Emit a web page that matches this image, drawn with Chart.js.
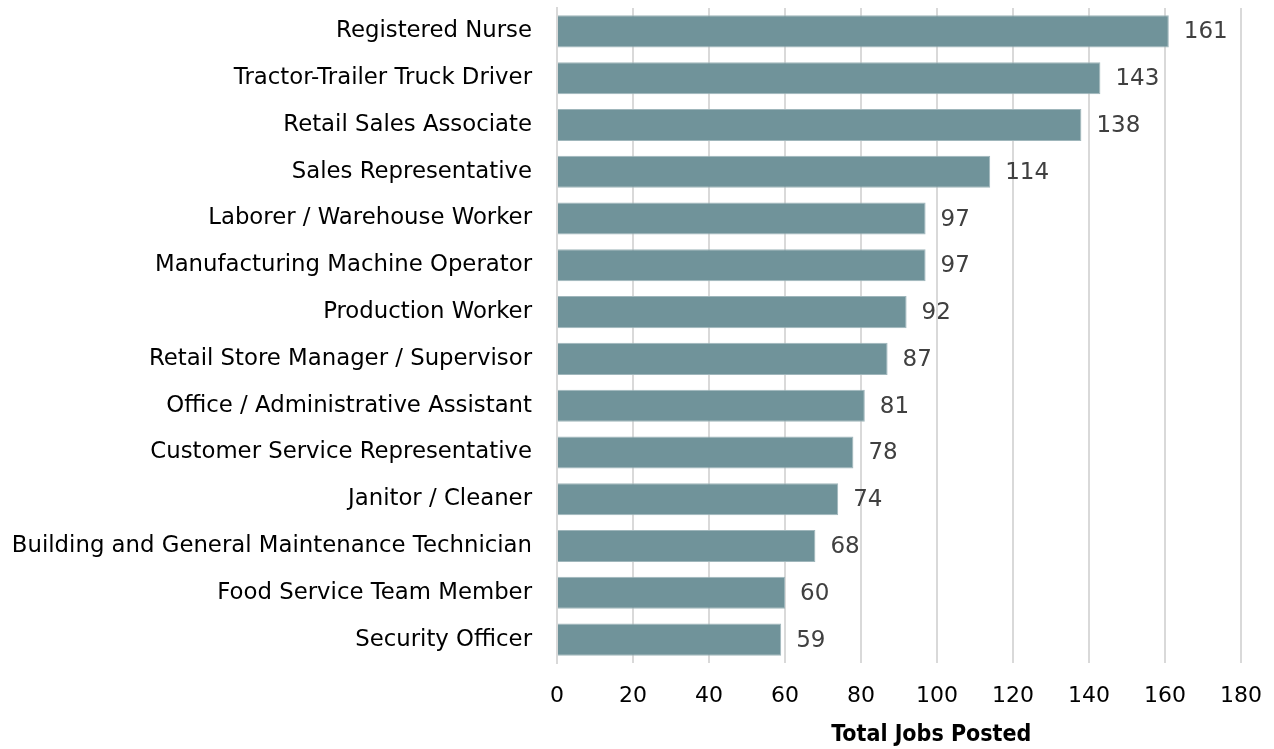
<!DOCTYPE html>
<html>
<head>
<meta charset="utf-8">
<script src="https://cdn.jsdelivr.net/npm/chart.js@4/dist/chart.umd.min.js"></script>
<style>
  html, body { margin: 0; padding: 0; background: #fff; }
  #wrap { width: 1274px; height: 749px; }
</style>
</head>
<body>
<div id="wrap"><canvas id="c" width="1274" height="749"></canvas></div>
<script>
const categories = [
  'Registered Nurse',
  'Tractor-Trailer Truck Driver',
  'Retail Sales Associate',
  'Sales Representative',
  'Laborer / Warehouse Worker',
  'Manufacturing Machine Operator',
  'Production Worker',
  'Retail Store Manager / Supervisor',
  'Office / Administrative Assistant',
  'Customer Service Representative',
  'Janitor / Cleaner',
  'Building and General Maintenance Technician',
  'Food Service Team Member',
  'Security Officer'
];
const jobsPosted = [161, 143, 138, 114, 97, 97, 92, 87, 81, 78, 74, 68, 60, 59];
const xTicks = [0, 20, 40, 60, 80, 100, 120, 140, 160, 180];
const axisTitle = 'Total Jobs Posted';

const FONT = '"DejaVu Sans", "Liberation Sans", Arial, sans-serif';
const TITLE_FONT = '"DejaVu Sans Condensed", "Liberation Sans", Arial, sans-serif';

// value labels at the end of each bar, plus the x axis title
const valueLabels = {
  id: 'valueLabels',
  afterDatasetsDraw(chart) {
    const { ctx } = chart;
    const meta = chart.getDatasetMeta(0);
    ctx.save();
    ctx.font = '23px ' + FONT;
    ctx.fillStyle = '#404040';
    ctx.textAlign = 'left';
    ctx.textBaseline = 'middle';
    meta.data.forEach((bar, i) => {
      ctx.fillText(String(jobsPosted[i]), bar.x + 15, bar.y + 1);
    });

    const xs = chart.scales.x;
    ctx.font = 'bold 23px ' + TITLE_FONT;
    ctx.fillStyle = '#000';
    ctx.textAlign = 'center';
    ctx.fillText(axisTitle, xs.getPixelForValue(98.5), 735);
    ctx.restore();
  }
};

new Chart(document.getElementById('c'), {
  type: 'bar',
  data: {
    labels: categories,
    datasets: [{
      data: jobsPosted,
      backgroundColor: '#70939a',
      borderColor: '#9fb6bb',
      borderWidth: 1,
      borderSkipped: 'left',
      categoryPercentage: 1,
      barPercentage: 0.685
    }]
  },
  options: {
    indexAxis: 'y',
    responsive: false,
    animation: false,
    devicePixelRatio: 1,
    layout: { padding: { top: 8, right: 33, left: 0, bottom: 0 } },
    plugins: { legend: { display: false }, tooltip: { enabled: false } },
    scales: {
      x: {
        min: 0,
        max: 180,
        afterBuildTicks: s => { s.ticks = xTicks.map(v => ({ value: v })); },
        grid: { color: '#d9d9d9', lineWidth: 2, tickLength: 0, drawTicks: false },
        border: { display: false },
        ticks: { color: '#000', font: { family: FONT, size: 22 }, padding: 20 },
        afterFit: s => { s.height = 86; s.paddingLeft = 0; s.paddingRight = 0; }
      },
      y: {
        grid: { display: false },
        border: { display: true, color: '#d9d9d9', width: 2 },
        ticks: { color: '#000', font: { family: FONT, size: 22.8 }, padding: 17 },
        afterFit: s => { s.width = 557; s.paddingTop = 0; s.paddingBottom = 0; }
      }
    }
  },
  plugins: [valueLabels]
});
</script>
</body>
</html>
